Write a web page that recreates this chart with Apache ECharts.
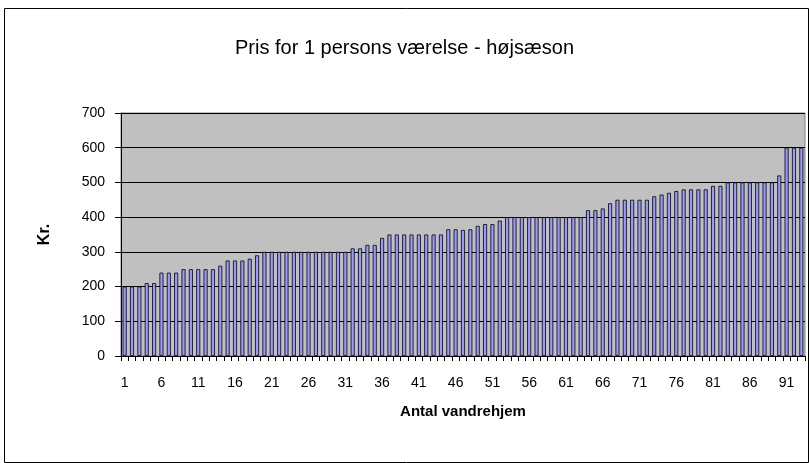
<!DOCTYPE html>
<html>
<head>
<meta charset="utf-8">
<script src="https://cdn.jsdelivr.net/npm/echarts@6/dist/echarts.min.js"></script>
<style>
html,body{margin:0;padding:0;background:#fff;}
#chart{width:809px;height:463px;}
</style>
</head>
<body>
<div id="chart"></div>
<script>
var titleText = "Pris for 1 persons værelse - højsæson";
var yAxisName = "Kr.";
var xAxisName = "Antal vandrehjem";
var yTicks = [0, 100, 200, 300, 400, 500, 600, 700];
var prices = [
  200, 200, 200, 210, 210, 240, 240, 240, 250, 250,
  250, 250, 250, 260, 275, 275, 275, 280, 290, 300,
  300, 300, 300, 300, 300, 300, 300, 300, 300, 300,
  300, 310, 310, 320, 320, 340, 350, 350, 350, 350,
  350, 350, 350, 350, 365, 365, 363, 365, 375, 380,
  380, 390, 400, 400, 400, 400, 400, 400, 400, 400,
  400, 400, 400, 420, 420, 425, 440, 450, 450, 450,
  450, 450, 460, 465, 470, 475, 480, 480, 480, 480,
  490, 490, 500, 500, 500, 500, 500, 500, 500, 520,
  600, 600, 600
];
var categories = prices.map(function (_, i) { return String(i + 1); });

var chart = echarts.init(document.getElementById('chart'), null, {renderer: 'canvas'});
var font = 'Liberation Sans, Arial, sans-serif';
chart.setOption({
  animation: false,
  backgroundColor: '#ffffff',
  graphic: [{
    type: 'rect', left: 2, top: 6, z: -10,
    shape: {width: 804, height: 454},
    style: {fill: 'none', stroke: '#000', lineWidth: 1}
  }],
  title: {
    text: titleText, left: 'center', top: 33,
    textStyle: {fontFamily: font, fontSize: 20, fontWeight: 'normal', color: '#000'}
  },
  grid: {
    left: 121, right: 4, top: 113, bottom: 107,
    show: true, backgroundColor: '#c0c0c0', borderColor: '#808080', borderWidth: 1
  },
  xAxis: {
    type: 'category', data: categories,
    name: xAxisName, nameLocation: 'middle', nameGap: 48,
    nameTextStyle: {fontFamily: font, fontSize: 15, fontWeight: 'bold', color: '#000'},
    axisLine: {lineStyle: {color: '#000', width: 1}},
    axisTick: {show: true, interval: 0, length: 5, lineStyle: {color: '#000'}},
    axisLabel: {interval: 4, fontFamily: font, fontSize: 14, color: '#000', margin: 20},
    splitLine: {show: false}
  },
  yAxis: {
    type: 'value', min: yTicks[0], max: yTicks[yTicks.length - 1], interval: 100,
    name: yAxisName, nameLocation: 'middle', nameGap: 68, nameRotate: 90,
    nameTextStyle: {fontFamily: font, fontSize: 16, fontWeight: 'bold', color: '#000'},
    axisLine: {show: true, lineStyle: {color: '#000', width: 1}},
    axisTick: {show: true, length: 6, lineStyle: {color: '#000'}},
    axisLabel: {fontFamily: font, fontSize: 14, color: '#000', margin: 16},
    splitLine: {show: true, lineStyle: {color: '#000', width: 1}}
  },
  series: [{
    type: 'bar', data: prices, barWidth: 4,
    itemStyle: {color: '#9999ff', borderColor: '#000', borderWidth: 0.8}
  }]
});
</script>
</body>
</html>
